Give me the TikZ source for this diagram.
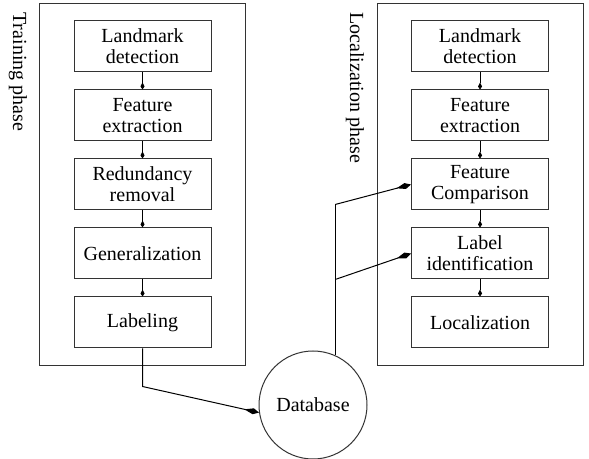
\documentclass[tikz,border=0pt]{standalone}
\usepackage{fontspec}
\setmainfont{Liberation Serif}
\usetikzlibrary{positioning,arrows.meta,fit,calc}
\definecolor{edge}{HTML}{333333}

\begin{document}
\begin{tikzpicture}[x=0.5pt, y=-0.5pt, node distance=8.5pt,
  blk/.style={draw=edge, line width=0.5pt, align=center, font=\rmfamily\fontsize{10}{10.5}\selectfont, minimum width=68.5pt, minimum height=25.5pt, inner sep=1pt},
  phase/.style={draw=edge, line width=0.5pt, inner xsep=17pt, inner ysep=8.5pt},
  ttl/.style={rotate=-90, anchor=west, font=\rmfamily\fontsize{10}{10}\selectfont, inner sep=0pt},
  arr/.style={-{Kite[length=3.5pt, width=2pt, inset=2pt]}, line width=0.4pt},
  bigarr/.style={-{Kite[length=7.5pt, width=3pt, inset=4.5pt]}, line width=0.5pt}]
  \useasboundingbox (0,0) rectangle (589,459);
  % training column
  \node[blk] (lm1) at (142.5,46.5) {Landmark\\detection};
  \node[blk, below=of lm1] (fe1) {Feature\\extraction};
  \node[blk, below=of fe1] (rr1) {Redundancy\\removal};
  \node[blk, below=of rr1] (gen1) {Generalization};
  \node[blk, below=of gen1] (lab1) {Labeling};
  \node[phase, fit=(lm1)(lab1)] (train) {};
  \node[ttl] (ttrain) at (18,12) {Training phase};
  % localization column
  \node[blk] (lm2) at (480,46.5) {Landmark\\detection};
  \node[blk, below=of lm2] (fe2) {Feature\\extraction};
  \node[blk, below=of fe2] (fc2) {Feature\\Comparison};
  \node[blk, below=of fc2] (li2) {Label\\identification};
  \node[blk, below=of li2] (loc2) {Localization};
  \node[phase, fit=(lm2)(loc2)] (local) {};
  \node[ttl] (tlocal) at (355,12) {Localization phase};
  % database
  \node[draw=edge, line width=0.5pt, circle, minimum size=54pt, inner sep=0pt, font=\rmfamily\fontsize{10}{10}\selectfont] (db) at (313,405) {Database};
  \draw[arr] (lm1) -- (fe1); \draw[arr] (fe1) -- (rr1); \draw[arr] (rr1) -- (gen1); \draw[arr] (gen1) -- (lab1);
  \draw[arr] (lm2) -- (fe2); \draw[arr] (fe2) -- (fc2); \draw[arr] (fc2) -- (li2); \draw[arr] (li2) -- (loc2);
  \coordinate (drop) at ([yshift=-19pt]lab1.south);
  \draw[bigarr] (lab1.south) -- (drop) -- (db.188);
  \coordinate (bendA) at ([yshift=3pt]db.66 |- fc2.south);
  \coordinate (bendB) at (db.66 |- li2.south);
  \draw[line width=0.5pt] (db.66) -- (bendA);
  \draw[bigarr] (bendA) -- (fc2.west);
  \draw[bigarr] (bendB) -- (li2.west);
\end{tikzpicture}
\end{document}
